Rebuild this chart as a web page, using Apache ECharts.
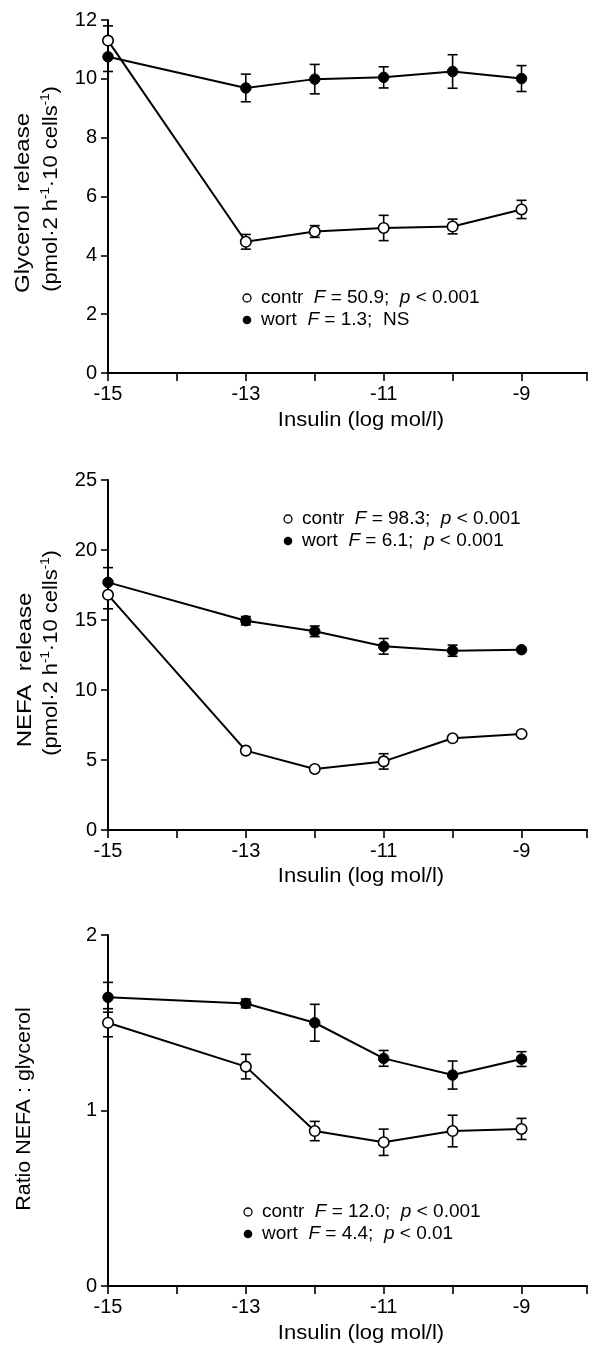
<!DOCTYPE html>
<html>
<head>
<meta charset="utf-8">
<script src="https://cdn.jsdelivr.net/npm/echarts@6/dist/echarts.min.js"></script>
<style>
  html, body { margin: 0; padding: 0; background: #fff; }
  #chart { width: 590px; height: 1349px; }
</style>
</head>
<body>
<div id="chart"></div>
<script>
// insulin concentrations (log mol/l)
const insulinLog = [-15, -13, -12, -11, -10, -9];

// panel 1: glycerol release
const glycContr = [11.3, 4.46, 4.81, 4.93, 4.98, 5.56];
const glycContrErr = [0.5, 0.25, 0.2, 0.43, 0.25, 0.31];
const glycWort = [10.75, 9.69, 9.99, 10.05, 10.25, 10.01];
const glycWortErr = [0.5, 0.47, 0.5, 0.36, 0.57, 0.44];

// panel 2: NEFA release
const nefaContr = [16.8, 5.67, 4.36, 4.9, 6.55, 6.86];
const nefaContrErr = [1.0, 0, 0, 0.55, 0, 0];
const nefaWort = [17.69, 14.95, 14.19, 13.12, 12.81, 12.88];
const nefaWortErr = [1.05, 0.3, 0.38, 0.56, 0.4, 0];

// panel 3: ratio NEFA : glycerol
const ratioContr = [1.5, 1.25, 0.883, 0.819, 0.883, 0.895];
const ratioContrErr = [0.08, 0.07, 0.055, 0.075, 0.09, 0.06];
const ratioWort = [1.645, 1.61, 1.5, 1.297, 1.202, 1.293];
const ratioWortErr = [0.085, 0.025, 0.105, 0.045, 0.08, 0.042];

// y axis ranges / tick step per panel
const yMax = [12, 25, 2];
const yStep = [2, 5, 1];

const FONT = '"Liberation Sans", Arial, sans-serif';
const chart = echarts.init(document.getElementById('chart'));

// grid boxes for the three panels
const grids = [
  { left: 108, width: 482, top: 20, height: 353 },
  { left: 108, width: 482, top: 480, height: 350 },
  { left: 108, width: 482, top: 935, height: 351 }
];

function pairs(ys) { return insulinLog.map((x, i) => [x, ys[i]]); }
function errPairs(ys, es) { return insulinLog.map((x, i) => [x, ys[i] - es[i], ys[i] + es[i]]); }

function renderErr(params, api) {
  const x = api.value(0), lo = api.value(1), hi = api.value(2);
  if (hi - lo <= 0) return null;
  const top = api.coord([x, hi]);
  const bot = api.coord([x, lo]);
  const w = 5;
  const st = { stroke: '#000', lineWidth: 1.6 };
  return {
    type: 'group',
    children: [
      { type: 'line', shape: { x1: top[0], y1: top[1], x2: bot[0], y2: bot[1] }, style: st },
      { type: 'line', shape: { x1: top[0] - w, y1: top[1], x2: top[0] + w, y2: top[1] }, style: st },
      { type: 'line', shape: { x1: bot[0] - w, y1: bot[1], x2: bot[0] + w, y2: bot[1] }, style: st }
    ]
  };
}

const xAxes = grids.map((g, i) => ({
  type: 'value', gridIndex: i, min: -15, max: -8.05, interval: 1,
  axisLine: { onZero: false, lineStyle: { color: '#000', width: 2 } },
  axisTick: { length: 8, lineStyle: { color: '#000', width: 1.6 } },
  axisLabel: {
    margin: 11, color: '#000', fontSize: 20, fontFamily: FONT,
    formatter: v => (Math.abs(v) % 2 === 1 ? String(v) : '')
  },
  splitLine: { show: false }
}));

const yAxes = grids.map((g, i) => ({
  type: 'value', gridIndex: i, min: 0, max: yMax[i], interval: yStep[i],
  axisLine: { show: true, lineStyle: { color: '#000', width: 2 } },
  axisTick: { show: true, length: 7, lineStyle: { color: '#000', width: 1.6 } },
  axisLabel: { margin: 11, color: '#000', fontSize: 20, fontFamily: FONT },
  splitLine: { show: false }
}));

const panels = [
  [glycContr, glycContrErr, glycWort, glycWortErr],
  [nefaContr, nefaContrErr, nefaWort, nefaWortErr],
  [ratioContr, ratioContrErr, ratioWort, ratioWortErr]
];

const series = [];
panels.forEach((p, i) => {
  series.push({
    type: 'custom', xAxisIndex: i, yAxisIndex: i, renderItem: renderErr,
    encode: { x: 0, y: [1, 2] }, data: errPairs(p[2], p[3]), z: 2, silent: true
  });
  series.push({
    type: 'custom', xAxisIndex: i, yAxisIndex: i, renderItem: renderErr,
    encode: { x: 0, y: [1, 2] }, data: errPairs(p[0], p[1]), z: 2, silent: true
  });
  series.push({
    name: 'wort' + i, type: 'line', xAxisIndex: i, yAxisIndex: i, data: pairs(p[2]),
    symbol: 'circle', symbolSize: 10.5, z: 3,
    lineStyle: { color: '#000', width: 2 },
    itemStyle: { color: '#000', borderColor: '#000', borderWidth: 1 }
  });
  series.push({
    name: 'contr' + i, type: 'line', xAxisIndex: i, yAxisIndex: i, data: pairs(p[0]),
    symbol: 'circle', symbolSize: 10.5, z: 4,
    lineStyle: { color: '#000', width: 2 },
    itemStyle: { color: '#fff', borderColor: '#000', borderWidth: 1.6 }
  });
});

// legend texts per panel
const legendContr = [
  'contr  {i|F} = 50.9;  {i|p} < 0.001',
  'contr  {i|F} = 98.3;  {i|p} < 0.001',
  'contr  {i|F} = 12.0;  {i|p} < 0.001'
];
const legendWort = [
  'wort  {i|F} = 1.3;  NS',
  'wort  {i|F} = 6.1;  {i|p} < 0.001',
  'wort  {i|F} = 4.4;  {i|p} < 0.01'
];
const legendPos = [[247, 298], [288, 519], [248, 1212]];
const legendGap = 22;

const yTitles = [
  ['Glycerol  release', '(pmol·2 h{s|-1}·10 cells{s|-1})'],
  ['NEFA  release', '(pmol·2 h{s|-1}·10 cells{s|-1})'],
  ['Ratio NEFA : glycerol']
];
// [x, y, horizontal stretch] of each rotated title line
const yTitlePos = [
  [[23, 203, 1.2], [51, 189, 1.1]],
  [[25, 670, 1.2], [51, 653, 1.1]],
  [[24, 1109, 1.07]]
];
const xTitleY = [420, 876, 1333];

const richT = {
  i: { fontStyle: 'italic', fontSize: 19, fontFamily: FONT, fill: '#000' }
};
const richS = {
  s: { fontSize: 12, fontFamily: FONT, verticalAlign: 'top', lineHeight: 12, fill: '#000' }
};

const graphic = [];
legendPos.forEach((pos, i) => {
  const [cx, cy] = pos;
  graphic.push({ type: 'circle', shape: { cx: cx, cy: cy, r: 4 }, style: { fill: '#fff', stroke: '#000', lineWidth: 1.3 } });
  graphic.push({ type: 'circle', shape: { cx: cx, cy: cy + legendGap, r: 4.3 }, style: { fill: '#000' } });
  graphic.push({ type: 'text', x: cx + 14, y: cy, style: { text: legendContr[i], fontSize: 19, fontFamily: FONT, fill: '#000', align: 'left', verticalAlign: 'middle', rich: richT } });
  graphic.push({ type: 'text', x: cx + 14, y: cy + legendGap, style: { text: legendWort[i], fontSize: 19, fontFamily: FONT, fill: '#000', align: 'left', verticalAlign: 'middle', rich: richT } });
  graphic.push({ type: 'text', x: 361, y: xTitleY[i], scaleX: 1.1, style: { text: 'Insulin (log mol/l)', fontSize: 20, fontFamily: FONT, fill: '#000', align: 'center', verticalAlign: 'middle' } });
  yTitles[i].forEach((t, j) => {
    const tp = yTitlePos[i][j];
    graphic.push({
      type: 'text', x: tp[0], y: tp[1], rotation: Math.PI / 2, scaleX: tp[2],
      style: { text: t, fontSize: 20, fontFamily: FONT, fill: '#000', align: 'center', verticalAlign: 'middle', lineHeight: 22, rich: richS }
    });
  });
});

chart.setOption({
  animation: false,
  backgroundColor: '#fff',
  grid: grids,
  xAxis: xAxes,
  yAxis: yAxes,
  series: series,
  graphic: graphic
});
</script>
</body>
</html>
